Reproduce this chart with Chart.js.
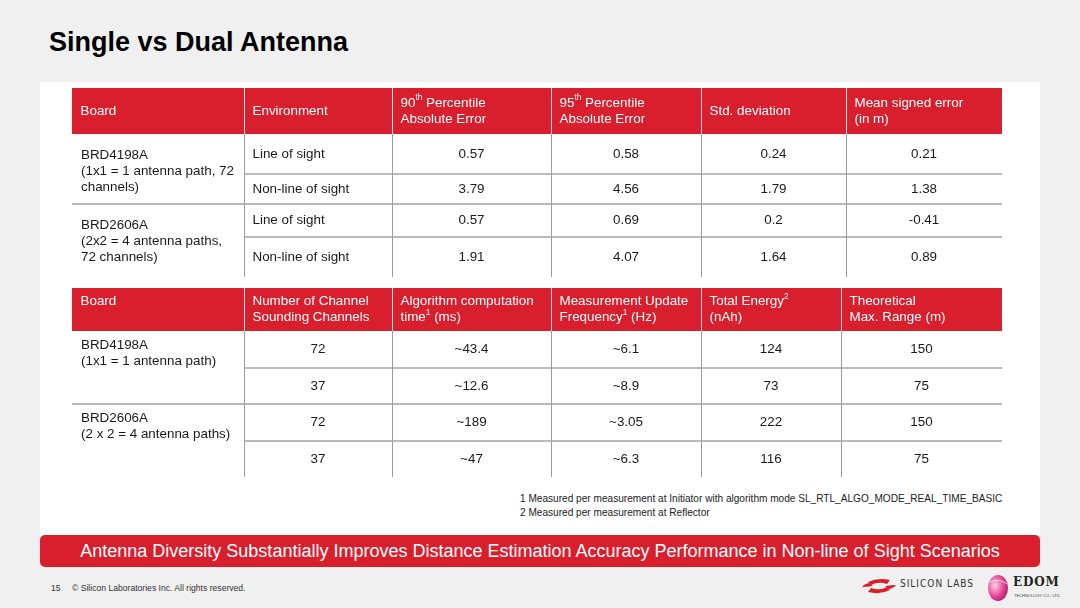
<!DOCTYPE html>
<html>
<head>
<meta charset="utf-8">
<script src="https://cdn.jsdelivr.net/npm/chart.js@4.4.1/dist/chart.umd.min.js"></script>
<style>
body{margin:0;background:#f0f0f0;font-family:"Liberation Sans",Arial,sans-serif}
#slide{position:relative;width:1080px;height:608px;overflow:hidden;background:#f0f0f0}
.title{position:absolute;left:49px;top:27px;font-size:27px;font-weight:bold;color:#000;white-space:nowrap}
.panel{position:absolute;left:40px;top:82px;width:1000px;height:454px;background:#fff}
canvas{position:absolute}
.notes{position:absolute;left:520px;top:492px;font-size:10.1px;line-height:14px;color:#222;white-space:nowrap}
.banner{position:absolute;left:40px;top:535px;width:1000px;height:32px;background:#d91f2d;border-radius:5px;color:#fff;font-size:18px;line-height:32px;text-align:center;white-space:nowrap}
.foot{position:absolute;top:583px;font-size:8.6px;color:#333;white-space:nowrap}
.sl{position:absolute;left:900px;top:578px;font-size:10px;letter-spacing:1px;color:#333;font-family:"DejaVu Sans Condensed","Liberation Sans Narrow",sans-serif}
.edom{position:absolute;left:1013px;top:575px;font-family:"DejaVu Serif",serif;font-weight:bold;font-size:12px;letter-spacing:0.8px;color:#222}
.edom2{position:absolute;left:1014px;top:593px;font-size:4px;color:#444;white-space:nowrap}
</style>
</head>
<body>
<div id="slide">
  <div class="title">Single vs Dual Antenna</div>
  <div class="panel"></div>
  <canvas id="t1" width="930" height="189" style="left:72px;top:88px"></canvas>
  <canvas id="t2" width="930" height="189" style="left:72px;top:288px"></canvas>
  <div class="notes">1 Measured per measurement at Initiator with algorithm mode SL_RTL_ALGO_MODE_REAL_TIME_BASIC<br>2 Measured per measurement at Reflector</div>
  <div class="banner">Antenna Diversity Substantially Improves Distance Estimation Accuracy Performance in Non-line of Sight Scenarios</div>
  <div class="foot" style="left:51px">15</div>
  <div class="foot" style="left:72px">© Silicon Laboratories Inc. All rights reserved.</div>
  <svg style="position:absolute;left:860px;top:578px" width="38" height="16" viewBox="0 0 38 16">
    <path d="M8 4 Q18 -1 30 2 L27 6 Q18 3 11 7 Z" fill="#d91f2d"/>
    <path d="M30 12 Q20 17 8 14 L11 10 Q20 13 27 9 Z" fill="#d91f2d"/>
    <path d="M2 9 Q4 6 9 5 L13 8 Q6 9 2 9 Z" fill="#d91f2d"/>
    <path d="M36 7 Q34 10 29 11 L25 8 Q32 7 36 7 Z" fill="#d91f2d"/>
  </svg>
  <div class="sl">SILICON LABS</div>
  <svg style="position:absolute;left:987px;top:574px" width="22" height="28" viewBox="0 0 22 28">
    <defs><radialGradient id="pk" cx="0.35" cy="0.4" r="0.7"><stop offset="0" stop-color="#fbd0e6"/><stop offset="0.6" stop-color="#e8489a"/><stop offset="1" stop-color="#b0156a"/></radialGradient></defs>
    <ellipse cx="11" cy="14" rx="10" ry="13" fill="url(#pk)"/>
    <path d="M3 8 Q12 4 20 10" stroke="#fff" stroke-width="1" fill="none" opacity="0.7"/>
  </svg>
  <div class="edom">EDOM</div>
  <div class="edom2">TECHNOLOGY CO., LTD.</div>
</div>
<script>
const RED = '#d91f2d'
const LINE = '#a3a3a3'
const FONT = '"Liberation Sans", Arial, sans-serif'
const SIZE = 13.4

// table 1: accuracy
const header1 = [['Board'], ['Environment'], ['90^th Percentile', 'Absolute Error'], ['95^th Percentile', 'Absolute Error'], ['Std. deviation'], ['Mean signed error', '(in m)']]
const boards1 = [['BRD4198A', '(1x1 = 1 antenna path, 72', 'channels)'], ['BRD2606A', '(2x2 = 4 antenna paths,', '72 channels)']]
const environments = ['Line of sight', 'Non-line of sight', 'Line of sight', 'Non-line of sight']
const p90 = [0.57, 3.79, 0.57, 1.91]
const p95 = [0.58, 4.56, 0.69, 4.07]
const stdDev = [0.24, 1.79, 0.2, 1.64]
const meanErr = [0.21, 1.38, -0.41, 0.89]

// table 2: cost
const header2 = [['Board'], ['Number of Channel', 'Sounding Channels'], ['Algorithm computation', 'time^1 (ms)'], ['Measurement Update', 'Frequency^1 (Hz)'], ['Total Energy^2', '(nAh)'], ['Theoretical', 'Max. Range (m)']]
const boards2 = [['BRD4198A', '(1x1 = 1 antenna path)'], ['BRD2606A', '(2 x 2 = 4 antenna paths)']]
const channels = [72, 37, 72, 37]
const algoTime = [43.4, 12.6, 189, 47]
const updateHz = [6.1, 8.9, 3.05, 6.3]
const energy = [124, 73, 222, 116]
const maxRange = [150, 75, 150, 75]

// layout of each table, in table units (canvas is 930 x 189)
const layout1 = {edges: [0, 172, 320, 479, 629, 774, 930], head: 46, rows: [40, 30, 33, 40], headTop: false, boardTop: 21}
const layout2 = {edges: [0, 172, 320, 479, 629, 769, 930], head: 43, rows: [37, 36, 37, 36], headTop: true, boardTop: 14}

function drawRich(ctx, text, x, y, color){
    let parts = text.split(/\^(\S+)/)
    let cx = x
    ctx.fillStyle = color
    ctx.textAlign = 'left'
    parts.forEach((p, i) => {
        if (!p) return
        if (i % 2){
            ctx.font = (SIZE*0.62) + 'px ' + FONT
            ctx.fillText(p, cx, y - SIZE*0.36)
        } else {
            ctx.font = SIZE + 'px ' + FONT
            ctx.fillText(p, cx, y)
        }
        cx += ctx.measureText(p).width
    })
}

function line(ctx, x1, y1, x2, y2, color, w){
    ctx.beginPath()
    ctx.strokeStyle = color
    ctx.lineWidth = w
    ctx.moveTo(x1, y1)
    ctx.lineTo(x2, y2)
    ctx.stroke()
}

function tabla(id, header, boards, cols, lay){
    let edges = lay.edges
    let last = edges[edges.length-1]
    let nRows = cols[0].values.length
    // row boundaries
    let rowY = [lay.head]
    lay.rows.forEach(h => rowY.push(rowY[rowY.length-1] + h))
    let bottom = rowY[rowY.length-1]

    let tablePlugin = {
        id: 'tabla',
        afterDraw(chart){
            let ctx = chart.ctx
            let X = v => chart.scales.x.getPixelForValue(v)
            let Y = v => chart.scales.y.getPixelForValue(v)
            let px = v => Math.round(X(v)) + 0.5
            ctx.save()
            ctx.textBaseline = 'middle'

            // header band
            ctx.fillStyle = RED
            ctx.fillRect(X(0), Y(0), X(last)-X(0), Y(lay.head)-Y(0))
            for (let i=1;i<edges.length-1;i++){
                line(ctx, px(edges[i]), Y(0), px(edges[i]), Y(lay.head), 'rgba(255,255,255,0.85)', 1)
            }
            header.forEach((lines, i) => {
                lines.forEach((t, j) => {
                    let yy
                    if (lay.headTop && lines.length == 1) yy = Y(13)
                    else yy = Y(lay.head/2) + (j - (lines.length-1)/2)*16
                    drawRich(ctx, t, X(edges[i]) + 8.5, yy, '#fff')
                })
            })

            // grid of the body
            for (let i=1;i<edges.length-1;i++){
                line(ctx, px(edges[i]), Y(lay.head), px(edges[i]), Y(bottom), '#9a9a9a', 1)
            }
            for (let r=1;r<nRows;r++){
                let start = r % 2 == 0 ? 0 : edges[1]
                line(ctx, X(start), Y(rowY[r]), X(last), Y(rowY[r]), LINE, 1.6)
            }

            // merged board cells
            boards.forEach((lines, g) => {
                lines.forEach((t, j) => {
                    drawRich(ctx, t, X(edges[0]) + 9, Y(rowY[g*2] + lay.boardTop) + j*16, '#1a1a1a')
                })
            })

            // value columns
            cols.forEach((col, c) => {
                col.values.forEach((v, r) => {
                    let txt = col.fmt ? col.fmt(v) : String(v)
                    let yy = Y((rowY[r] + rowY[r+1])/2)
                    if (col.left){
                        drawRich(ctx, txt, X(edges[c+1]) + 8.5, yy, '#1a1a1a')
                    } else {
                        ctx.font = SIZE + 'px ' + FONT
                        ctx.fillStyle = '#1a1a1a'
                        ctx.textAlign = 'center'
                        ctx.fillText(txt, X((edges[c+1]+edges[c+2])/2), yy)
                    }
                })
            })
            ctx.restore()
        }
    }

    return new Chart(document.getElementById(id), {
        type: 'scatter',
        data: {datasets: []},
        options: {
            responsive: false,
            animation: false,
            layout: {padding: 0},
            plugins: {legend: {display: false}, tooltip: {enabled: false}},
            scales: {
                x: {type: 'linear', display: false, min: 0, max: last},
                y: {type: 'linear', display: false, reverse: true, min: 0, max: 189}
            }
        },
        plugins: [tablePlugin]
    })
}

const tilde = v => '~' + v

tabla('t1', header1, boards1, [
    {values: environments, left: true},
    {values: p90},
    {values: p95},
    {values: stdDev},
    {values: meanErr}
], layout1)

tabla('t2', header2, boards2, [
    {values: channels},
    {values: algoTime, fmt: tilde},
    {values: updateHz, fmt: tilde},
    {values: energy},
    {values: maxRange}
], layout2)
</script>
</body>
</html>
